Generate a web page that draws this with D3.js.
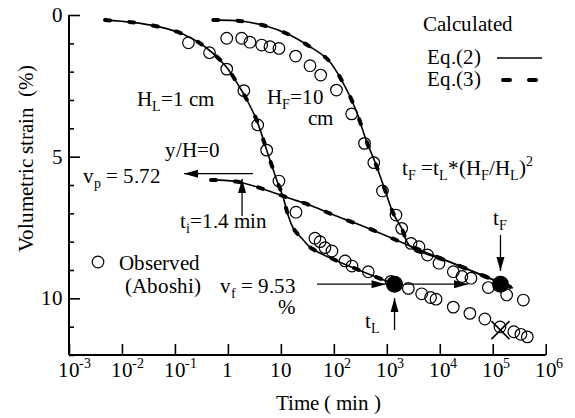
<!DOCTYPE html>
<html>
<head>
<meta charset="utf-8">
<script src="https://cdn.jsdelivr.net/npm/d3@7"></script>
<style>
  @font-face { font-family: "ChartSerif"; src: local("Liberation Serif"), local("LiberationSerif"), local("Times New Roman"); }
  body { margin: 0; background: #fff; }
  #chart text, #chart tspan { font-family: "ChartSerif", "Liberation Serif", "Times New Roman" !important; }
</style>
</head>
<body>
<div id="chart"></div>
<script>
// x ticks (log decades) and their labels: base + superscript
const xTicks = [1e-3, 1e-2, 1e-1, 1, 10, 1e2, 1e3, 1e4, 1e5, 1e6];
const xTickBase = ["10", "10", "10", "1", "10", "10", "10", "10", "10", "10"];
const xTickExp = ["-3", "-2", "-1", "", "", "2", "3", "4", "5", "6"];
const yTicks = [0, 1, 2, 3, 4, 5, 6, 7, 8, 9, 10, 11, 12];
const yLabels = [0, 5, 10];

// calculated curve, H_L = 1 cm
const hlTime = [0.0048, 0.016, 0.051, 0.144, 0.369, 0.88, 1.57, 2.29, 3.49, 5.4, 8.34, 11, 13.6, 17.2, 26.5, 38.2, 1400];
const hlStrain = [0.18, 0.26, 0.42, 0.68, 1.12, 1.77, 2.47, 3.0, 3.71, 4.77, 5.82, 6.42, 7.05, 7.53, 7.94, 8.24, 9.5];

// calculated curve, H_F = 10 cm
const hfTime = [0.53, 1.69, 5.24, 13.8, 35.5, 78.5, 151, 260, 417, 598, 925, 1325, 1910, 2740, 15600, 140000, 241000];
const hfStrain = [0.18, 0.21, 0.39, 0.68, 1.12, 1.59, 2.41, 3.35, 4.47, 5.19, 6.18, 7.0, 7.53, 8.15, 8.72, 9.45, 9.64];

// y/H = 0 line
const yhTime = [0.48, 1.69, 4.6, 13.1, 38.7, 105, 482, 2740, 15600, 140000];
const yhStrain = [5.82, 5.9, 6.14, 6.44, 6.74, 7.08, 7.55, 8.15, 8.72, 9.45];

// observed (Aboshi), thin specimen
const obsLTime = [0.18, 0.45, 0.95, 2.0, 3.65, 5.4, 9.2, 19.3, 44, 55, 68, 92, 163, 220, 447, 1200, 2550, 4550, 6700, 8500, 18000, 37000, 71000, 137000, 250000, 340000, 450000];
const obsLStrain = [0.98, 1.33, 1.91, 2.67, 3.88, 4.77, 5.86, 6.96, 7.88, 8.0, 8.21, 8.33, 8.68, 8.86, 9.06, 9.4, 9.65, 9.84, 9.97, 10.03, 10.31, 10.53, 10.73, 11.01, 11.18, 11.27, 11.36];

// observed (Aboshi), thick specimen
const obsFTime = [0.95, 1.82, 2.61, 4.34, 6.23, 9.2, 19, 35.5, 56.5, 112, 217, 379, 568, 828, 1490, 1910, 2860, 4050, 5860, 9660, 18000, 26200, 38800, 82400, 183000, 378000];
const obsFStrain = [0.82, 0.82, 0.96, 1.06, 1.12, 1.18, 1.45, 1.79, 2.12, 2.65, 3.49, 4.53, 5.21, 6.21, 7.06, 7.53, 8.06, 8.18, 8.47, 8.76, 9.06, 9.23, 9.29, 9.62, 9.88, 10.06];

const tL = 1400, tF = 140000, vf = 9.5;
const tiArrow = 1.85, vpLevel = 5.6;
const crossPoint = [140000, 11.12];

const W = 575, H = 418;
const svg = d3.select("#chart").append("svg").attr("width", W).attr("height", H);

const x = d3.scaleLog().domain([1e-3, 1e6]).range([69, 545.7]);
const y = d3.scaleLinear().domain([0, 12]).range([15, 355]);
const FS = 21;

// axes
const xAxis = svg.append("g").attr("transform", `translate(0,${y(12)})`)
  .call(d3.axisBottom(x).tickValues(xTicks).tickSize(-11).tickFormat(""));
const yAxis = svg.append("g").attr("transform", `translate(${x(1e-3)},0)`)
  .call(d3.axisLeft(y).tickValues(yTicks).tickSize(-5).tickFormat(""));
yAxis.selectAll(".tick line").filter(d => yLabels.includes(d)).attr("x2", 11);
[xAxis, yAxis].forEach(a => {
  a.select(".domain").remove();
  a.selectAll("text").remove();
  a.attr("font-family", null).attr("font-size", null);
  a.selectAll("line").attr("stroke", "#000").attr("stroke-width", 1.6);
});
svg.append("line").attr("x1", x(1e-3)).attr("x2", x(1e6)).attr("y1", y(12)).attr("y2", y(12))
  .attr("stroke", "#000").attr("stroke-width", 2);
svg.append("line").attr("x1", x(1e-3)).attr("x2", x(1e-3)).attr("y1", y(0)).attr("y2", y(12))
  .attr("stroke", "#000").attr("stroke-width", 2);

function txt(px, py, size) {
  return svg.append("text").attr("x", px).attr("y", py).attr("font-size", size)
    .attr("font-family", "Liberation Serif");
}

// tick labels
xTicks.forEach((t, i) => {
  txt(x(t), 377, FS).attr("text-anchor", "middle").text(xTickBase[i]);
  if (xTickExp[i]) txt(x(t) + 10, 368, 14).text(xTickExp[i]);
});
yLabels.forEach(v => {
  txt(63, y(v) + 7, FS).attr("text-anchor", "end").text(v);
});

// axis titles
txt(328, 410, FS).attr("text-anchor", "middle").text("Time ( min )");
txt(0, 0, FS).attr("transform", "translate(33,158) rotate(-90)").attr("text-anchor", "middle")
  .text("Volumetric strain\u00a0 (%)");

// curves: Eq.(2) solid + Eq.(3) thick dashes
const line = d3.line().x(d => x(d[0])).y(d => y(d[1])).curve(d3.curveCatmullRom.alpha(0.5));
const curves = [
  d3.zip(hlTime, hlStrain),
  d3.zip(hfTime, hfStrain),
  d3.zip(yhTime, yhStrain)
];
curves.forEach(c => {
  svg.append("path").attr("d", line(c)).attr("fill", "none").attr("stroke", "#000").attr("stroke-width", 1.6);
  svg.append("path").attr("d", line(c)).attr("fill", "none").attr("stroke", "#000").attr("stroke-width", 4)
    .attr("stroke-linecap", "round").attr("stroke-dasharray", "5,19");
});

// observed points
svg.selectAll(".obs").data(d3.zip(obsLTime, obsLStrain).concat(d3.zip(obsFTime, obsFStrain)))
  .enter().append("circle")
  .attr("cx", d => x(d[0])).attr("cy", d => y(d[1])).attr("r", 5.8)
  .attr("fill", "none").attr("stroke", "#000").attr("stroke-width", 1.2);

// big dots at tL and tF
svg.selectAll(".big").data([[tL, vf], [tF, vf]]).enter().append("circle")
  .attr("cx", d => x(d[0])).attr("cy", d => y(d[1])).attr("r", 8.5).attr("fill", "#000");

// cross
const cx = x(crossPoint[0]), cy = y(crossPoint[1]);
svg.append("path").attr("d", `M${cx - 9},${cy - 9}L${cx + 9},${cy + 9}M${cx - 9},${cy + 9}L${cx + 9},${cy - 9}`)
  .attr("stroke", "#000").attr("stroke-width", 1.6);

// arrows
function arrow(x1, y1, x2, y2) {
  svg.append("line").attr("x1", x1).attr("y1", y1).attr("x2", x2).attr("y2", y2)
    .attr("stroke", "#000").attr("stroke-width", 1.3);
  const a = Math.atan2(y2 - y1, x2 - x1), L = 14, w = 4;
  const bx = x2 - L * Math.cos(a), by = y2 - L * Math.sin(a);
  svg.append("path").attr("d", `M${x2},${y2}L${bx - w * Math.sin(a)},${by + w * Math.cos(a)}L${bx + w * Math.sin(a)},${by - w * Math.cos(a)}Z`)
    .attr("fill", "#000");
}
arrow(253, y(vpLevel), 184, y(vpLevel));
arrow(x(tiArrow), 216, x(tiArrow), 179);
arrow(317, y(vf), x(tL) - 9, y(vf));
arrow(x(tL) + 10, y(vf), 468, y(vf));
arrow(x(tL), 330, x(tL), 298);
arrow(x(tF), 235, x(tF), 271);

// text helper with sub/superscripts
function label(px, py, parts) {
  const t = txt(px, py, FS);
  parts.forEach(p => {
    const s = t.append("tspan").text(p[0]);
    if (p[1] === "sub") s.attr("font-size", 14).attr("dy", 5);
    else if (p[1] === "sup") s.attr("font-size", 14).attr("dy", -9);
    else if (p[1] === "subup") s.attr("dy", -5);
  });
  return t;
}
label(137, 106, [["H"], ["L", "sub"], ["=1 cm", "subup"]]);
label(267, 104, [["H"], ["F", "sub"], ["=10", "subup"]]);
label(308, 125, [["cm"]]);
label(165, 157, [["y/H=0"]]);
label(83, 183, [["v"], ["p", "sub"], ["\u00a0= 5.72", "subup"]]);
label(180, 228, [["t"], ["i", "sub"], ["=1.4 min", "subup"]]);
label(402, 175, [["t"], ["F", "sub"], ["\u00a0=t", "subup"], ["L", "sub"], ["*(H", "subup"], ["F", "sub"], ["/H", "subup"], ["L", "sub"], [")", "subup"], ["2", "sup"]]);
label(220, 293, [["v"], ["f", "sub"], ["\u00a0= 9.53", "subup"]]);
label(278, 314, [["%"]]);
label(365, 328, [["t"], ["L", "sub"]]);
label(493, 225, [["t"], ["F", "sub"]]);

// legends
label(423, 31, [["Calculated"]]);
label(427, 64, [["Eq.(2)"]]);
label(427, 86, [["Eq.(3)"]]);
svg.append("line").attr("x1", 497).attr("x2", 542).attr("y1", 58).attr("y2", 58)
  .attr("stroke", "#000").attr("stroke-width", 1.6);
svg.append("line").attr("x1", 503).attr("x2", 542).attr("y1", 80).attr("y2", 80)
  .attr("stroke", "#000").attr("stroke-width", 4).attr("stroke-linecap", "round").attr("stroke-dasharray", "7,19");
svg.append("circle").attr("cx", 98).attr("cy", 262).attr("r", 5.8)
  .attr("fill", "none").attr("stroke", "#000").attr("stroke-width", 1.2);
label(119, 270, [["Observed"]]);
label(125, 293, [["(Aboshi)"]]);
</script>
</body>
</html>
